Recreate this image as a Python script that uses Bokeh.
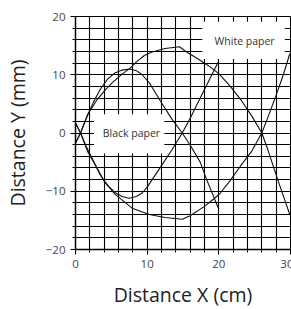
from bokeh.plotting import figure
from bokeh.models import BoxAnnotation, Label, SingleIntervalTicker, FixedTicker
from bokeh.embed import file_html
from bokeh.resources import INLINE

# Black paper traces
black_a_x = [0, 0.7, 1.5, 2.5, 3.5, 4.5, 5.5, 6.5, 7.5, 8.5, 9.3, 10.0, 10.7, 12.0, 13.5, 14.9, 16.2, 17.4, 18.7, 20.0]
black_a_y = [1.7, 0, -2.3, -4.8, -7.3, -9.0, -10.2, -10.9, -11.2, -10.9, -10.3, -9.3, -8.0, -5.6, -2.8, 0, 3.0, 6.0, 9.2, 12.4]
black_b_x = [0, 0.7, 1.5, 2.5, 3.5, 4.5, 5.5, 6.5, 7.6, 8.5, 9.3, 10.3, 11.0, 12.0, 13.5, 14.9, 16.2, 17.4, 18.3, 20.0]
black_b_y = [-1.7, 0, 2.5, 5.3, 7.6, 9.3, 10.3, 10.8, 11.0, 10.7, 10.0, 8.6, 7.2, 5.2, 2.3, 0, -2.5, -5.0, -8.0, -13.1]
# White paper traces
white_c_x = [0, 0.7, 1.7, 3.0, 4.0, 5.1, 6.5, 7.6, 8.5, 9.6, 10.7, 12.5, 14.5, 15.5, 17.0, 18.5, 20.0, 21.6, 23.2, 24.6, 26.0, 26.9, 28.3, 29.9]
white_c_y = [-1.7, 0, 3.2, 5.7, 7.2, 8.6, 10.1, 11.1, 12.2, 13.3, 13.9, 14.5, 14.8, 13.9, 12.8, 11.6, 10.2, 8.0, 5.5, 2.9, 0, -3.1, -8.3, -14.0]
white_d_x = [0, 0.7, 1.7, 3.0, 4.0, 5.5, 7.9, 10.3, 12.5, 14.9, 16.0, 18.0, 20.0, 21.5, 23.0, 24.6, 26.0, 27.0, 28.0, 29.0, 29.9]
white_d_y = [1.7, 0, -3.2, -6.0, -8.3, -10.5, -12.9, -14.0, -14.5, -14.8, -14.2, -12.6, -10.6, -8.3, -5.7, -3.1, 0, 3.2, 6.5, 10.0, 13.6]

x_ticks = [0, 10, 20, 30]
y_ticks = [-20, -10, 0, 10, 20]
grid_x = list(range(0, 31, 2))
grid_y = list(range(-20, 21, 2))

FONT = "Open Sans"

p = figure(frame_width=215, frame_height=233, x_range=(0, 30), y_range=(-20, 20),
           output_backend="svg", toolbar_location=None,
           min_border_left=65, min_border_right=3, min_border_top=16, min_border_bottom=52,
           x_axis_label="Distance X (cm)", y_axis_label="Distance Y (mm)")
p.background_fill_color = "white"
p.border_fill_color = "white"
p.outline_line_color = "black"
p.outline_line_width = 1

for g, t in ((p.xgrid, grid_x), (p.ygrid, grid_y)):
    g.ticker = FixedTicker(ticks=t)
    g.grid_line_color = "black"
    g.grid_line_width = 1.1
    g.grid_line_alpha = 1.0

for ax in (p.xaxis, p.yaxis):
    ax.ticker = SingleIntervalTicker(interval=10, num_minor_ticks=5)
    ax.axis_line_color = "black"
    ax.axis_line_width = 1.5
    ax.major_tick_in = 0
    ax.major_tick_out = 5
    ax.minor_tick_in = 0
    ax.minor_tick_out = 3
    ax.major_tick_line_color = "black"
    ax.minor_tick_line_color = "black"
    ax.major_label_text_font = FONT
    ax.major_label_text_font_size = "11.5px"
    ax.major_label_text_color = "#444444"
    ax.axis_label_text_font = FONT
    ax.axis_label_text_font_size = "19.5px"
    ax.axis_label_text_font_style = "normal"
    ax.axis_label_text_color = "#222222"
p.xaxis.axis_label_standoff = 10
p.yaxis.axis_label_standoff = 12

for xs, ys in ((black_a_x, black_a_y), (black_b_x, black_b_y), (white_c_x, white_c_y), (white_d_x, white_d_y)):
    p.line(xs, ys, line_color="#111111", line_width=1.1)

# label boxes covering the grid
p.add_layout(BoxAnnotation(left=2.6, right=12.4, bottom=-3.5, top=3.2,
                           fill_color="white", fill_alpha=1, line_color=None))
p.add_layout(BoxAnnotation(left=17.7, right=29.2, bottom=12.7, top=19.1,
                           fill_color="white", fill_alpha=1, line_color=None))
p.add_layout(Label(x=7.8, y=0, text="Black paper", text_align="center", text_baseline="middle",
                   text_font=FONT, text_font_size="10.5px", text_color="#333333"))
p.add_layout(Label(x=23.6, y=15.8, text="White paper", text_align="center", text_baseline="middle",
                   text_font=FONT, text_font_size="10.5px", text_color="#333333"))

open("out.html", "w").write(file_html(p, INLINE))
